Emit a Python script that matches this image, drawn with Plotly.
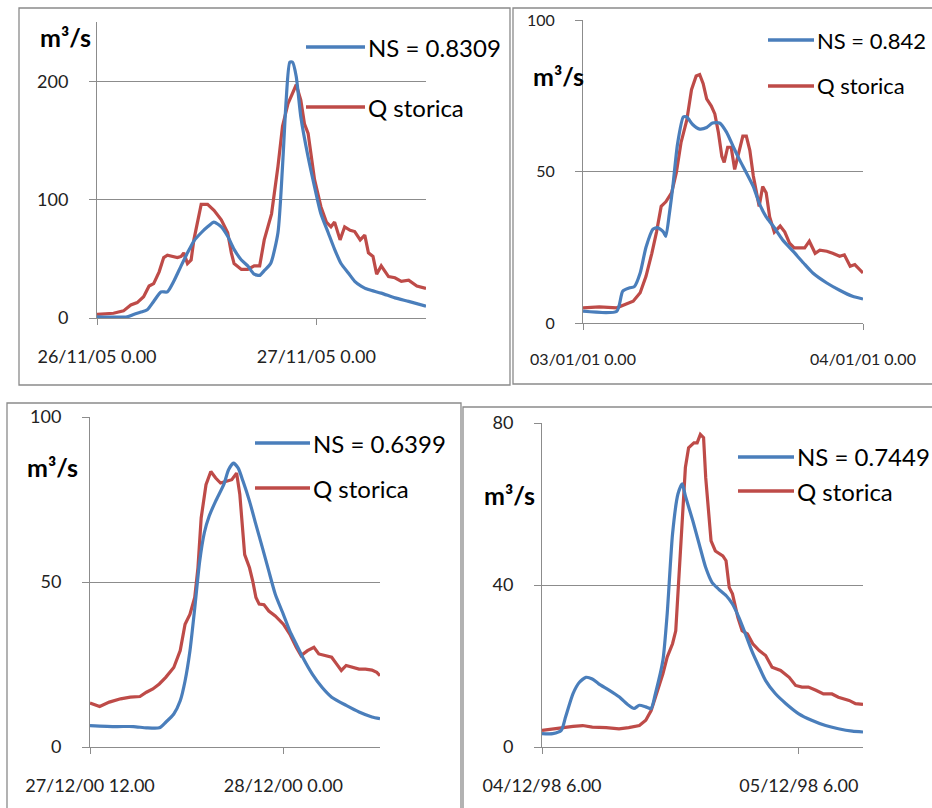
import plotly.graph_objects as go

W, H = 932, 808

# ---------------- data (hours from the first labelled tick, discharge m3/s) ----------------
# Event 1: 26/11/05
p1_sim_h = [0, 3.3, 4.0, 4.8, 5.5, 6.2, 7.0, 7.7, 8.4, 9.2, 9.9, 10.6, 11.4, 12.1, 12.8, 13.6, 14.3, 15.0,
            15.8, 16.5, 17.2, 17.8, 18.3, 19.0, 19.8, 20.3, 20.7, 21.1, 21.4, 21.8, 22.3, 23.1, 23.8, 24.5,
            25.3, 26.0, 26.7, 27.5, 28.2, 28.9, 29.7, 31.1, 32.6, 34.1, 36.0]
p1_sim = [1, 1, 3, 5, 7, 14, 22, 22, 31, 44, 55, 65, 72, 77, 81, 77, 69, 58,
          49, 44, 37, 36, 40, 46, 72, 128, 184, 216, 216, 204, 170, 136, 111, 88,
          72, 58, 46, 38, 31, 27, 24, 21, 17, 14, 10]
p1_obs_h = [0, 1.8, 2.9, 3.7, 4.4, 5.1, 5.7, 6.2, 6.8, 7.3, 7.7, 8.2, 8.8, 9.2, 9.5, 9.9, 10.3, 10.6,
            11.4, 12.1, 12.8, 13.6, 14.3, 14.7, 15.0, 15.8, 16.5, 17.2, 17.8, 18.3, 19.1, 19.8, 20.3,
            20.9, 21.4, 21.8, 22.3, 22.7, 23.1, 23.8, 24.5, 25.1, 25.6, 26.0, 26.6, 27.1, 27.7, 28.2,
            28.8, 29.3, 29.7, 30.2, 30.6, 31.1, 31.9, 32.6, 33.3, 34.1, 35.0, 36.0]
p1_obs = [3, 4, 6, 11, 13, 18, 27, 29, 39, 51, 53, 52, 51, 52, 55, 46, 49, 66,
          96, 96, 91, 83, 72, 55, 46, 41, 41, 44, 44, 66, 88, 128, 162,
          181, 190, 197, 184, 164, 156, 117, 94, 81, 77, 81, 66, 77, 74, 73,
          66, 70, 55, 52, 37, 44, 35, 34, 31, 32, 27, 25]

# Event 2: 03/01/01
p2_sim_h = [0, 2.9, 3.4, 4.0, 4.4, 4.9, 5.4, 6.0, 6.4, 6.9, 7.1, 7.4, 7.7, 8.1, 8.6, 8.9, 9.4, 10.0,
            10.6, 11.1, 11.7, 12.3, 12.9, 13.4, 14.0, 14.6, 15.1, 15.7, 16.3, 17.1, 18.0, 18.9, 19.7,
            20.9, 22.0, 23.1, 24.0]
p2_sim = [3.9, 3.9, 10.5, 11.6, 12, 16.5, 25, 31, 31.5, 30, 28.6, 36, 45, 59, 68, 68, 65.5, 64,
          64.5, 66, 66, 63, 58, 54, 49.6, 45, 39.6, 35, 32, 27.5, 23.7, 19.8, 16.5,
          13.2, 10.8, 8.8, 7.9]
p2_obs_h = [0, 1.4, 2.9, 3.7, 4.3, 4.9, 5.4, 5.9, 6.3, 6.7, 7.1, 7.6, 8.0, 8.4, 8.9, 9.3, 9.7, 10.0,
            10.3, 10.6, 11.0, 11.3, 11.6, 11.9, 12.1, 12.4, 12.7, 13.0, 13.3, 13.7, 14.0, 14.3, 14.6,
            14.9, 15.1, 15.4, 15.7, 16.0, 16.4, 16.9, 17.3, 17.7, 18.1, 18.6, 19.0, 19.4, 19.9, 20.3,
            20.9, 21.4, 22.0, 22.4, 22.9, 23.3, 23.7, 24.0]
p2_obs = [5, 5.3, 5, 6.4, 7.2, 10, 15.4, 23, 30, 38.5, 40, 43, 49.6, 59.5, 67, 77, 81.5, 82,
          79, 74, 71.6, 69, 63, 55, 53, 58, 58, 50.7, 55, 61.7, 61.7, 57, 48.5,
          43, 38.5, 45, 43, 35, 30, 32, 30, 26.4, 24.8, 24.8, 24.8, 27, 23, 24,
          23.7, 23, 22, 22.5, 18.7, 19.3, 17.6, 16.5]

# Event 3: 27/12/00
p3_sim_h = [0, 1.6, 2.7, 3.5, 4.3, 4.7, 5.2, 5.6, 5.9, 6.2, 6.5, 6.8, 7.1, 7.4, 7.8, 8.3, 8.6, 8.9,
            9.2, 9.5, 9.9, 10.3, 10.7, 11.1, 11.5, 12.0, 12.4, 12.8, 13.2, 13.8, 14.4, 15.0, 15.9,
            16.7, 17.5, 18.0]
p3_sim = [6.5, 6.2, 6.2, 5.8, 5.8, 7.5, 10, 14, 20, 29, 42, 56, 65, 70, 74.5, 79.5, 84, 86,
          84.5, 80.5, 74.5, 67.4, 60.4, 53.3, 46.3, 40.2, 35.2, 31.2, 27.2, 22.1, 18.1, 15.1, 12.6,
          10.6, 9.1, 8.6]
p3_obs_h = [0, 0.6, 1.2, 1.9, 2.5, 3.1, 3.5, 3.9, 4.3, 4.7, 5.2, 5.6, 5.9, 6.2, 6.5, 6.7, 6.9, 7.2,
            7.5, 7.8, 8.1, 8.5, 8.8, 9.1, 9.3, 9.6, 9.9, 10.1, 10.3, 10.5, 10.8, 11.1, 11.5, 12.0,
            12.4, 12.8, 13.1, 13.5, 13.9, 14.2, 14.6, 15.0, 15.3, 15.6, 15.9, 16.3, 16.7, 17.1, 17.5,
            17.8, 18.0]
p3_obs = [13.3, 12.3, 13.6, 14.6, 15.1, 15.3, 16.6, 17.6, 19.1, 21.1, 24.1, 29.2, 37.2, 40.2, 45.3, 54.3, 69.4, 79.5,
          83.5, 81.5, 80, 80.5, 81, 83, 76.5, 58.3, 54.3, 50.3, 45.3, 43.3, 43.1, 41.2, 39.7, 37.2,
          34.2, 30.2, 27.7, 29.2, 30.2, 28.2, 27.7, 27.2, 25.2, 23.2, 24.7, 24.1, 23.6, 23.6, 23.3,
          22.6, 21.6]

# Event 4: 04/12/98
p4_sim_h = [0, 1.0, 1.8, 2.2, 2.9, 3.5, 4.1, 4.7, 5.3, 6.3, 7.2, 8.1, 8.6, 9.1, 9.7, 10.2, 10.6, 11.3,
            11.7, 12.2, 12.7, 13.1, 13.4, 14.1, 14.7, 15.3, 15.9, 16.5, 17.2, 17.8, 18.4, 19.0, 19.6,
            20.3, 20.9, 21.8, 22.8, 24.0, 25.2, 26.5, 27.7, 29.0, 30.0]
p4_sim = [3.3, 3.3, 4.1, 7.4, 13.2, 16, 17.2, 16.8, 15.6, 14, 12.4, 10.3, 9.5, 10.3, 9.9, 9.5, 13.2, 21.4,
          32.9, 52.6, 62.4, 65, 62, 55.8, 50, 44.3, 40.6, 39, 37.4, 35.3, 32, 28, 23.8,
          19.7, 16.4, 13.2, 10.7, 8.2, 6.6, 5.3, 4.5, 3.9, 3.7]
p4_obs_h = [0, 1.0, 1.9, 2.9, 3.8, 4.7, 6.0, 7.2, 8.1, 9.1, 9.7, 10.2, 10.6, 11.3, 11.7, 12.2, 12.5, 12.8,
            13.1, 13.4, 13.7, 14.2, 14.5, 14.8, 15.1, 15.3, 15.8, 16.2, 16.9, 17.2, 17.5, 17.8, 18.3,
            18.7, 19.2, 19.7, 20.3, 20.9, 21.5, 22.3, 23.1, 23.7, 24.3, 24.9, 25.6, 26.3, 27.1, 27.7,
            28.7, 29.3, 30.0]
p4_obs = [4.1, 4.5, 4.8, 5.1, 5.3, 4.9, 4.8, 4.5, 4.8, 5.3, 6.6, 9, 12.3, 18.1, 22.2, 25.5, 28.7, 42.7,
          57.5, 69, 73.9, 75.1, 75.1, 77.2, 76.4, 66.5, 50.9, 48.4, 47.2, 46, 39.4, 37.8, 32,
          28.7, 27.9, 25.5, 23.8, 22.6, 19.7, 18.9, 17.2, 15.2, 14.8, 14.8, 14, 13.1, 13.1, 12.3,
          11.5, 10.7, 10.5]

# axis labels and legend texts
p1_xticks = ["26/11/05 0.00", "27/11/05 0.00"]
p2_xticks = ["03/01/01 0.00", "04/01/01 0.00"]
p3_xticks = ["27/12/00 12.00", "28/12/00 0.00"]
p4_xticks = ["04/12/98 6.00", "05/12/98 6.00"]
ns_labels = ["NS = 0.8309", "NS = 0.842", "NS = 0.6399", "NS = 0.7449"]
obs_label = "Q storica"
unit_label = "m³/s"

BLUE = "#4A7EBB"
RED = "#BE4B48"
GRID = "#8C8C8C"
FONT = "Lato"


def px(x):
    return x / W


def py(y):
    return 1 - y / H


# panel geometry in pixels: x-left, x-right, y-bottom (value 0), y-top
panels = [
    dict(x0=97, x1=426, yb=318, yt=22, xr=[0, 36], yr=[0, 250], yt_vals=[0, 100, 200], xt=[0, 24],
         xtext=p1_xticks, sim=(p1_sim_h, p1_sim), obs=(p1_obs_h, p1_obs), tfs=18,
         leg=dict(lx0=306, lx1=365, y1=47, y2=107, fs=24), unit=(65, 37), ns=ns_labels[0]),
    dict(x0=583, x1=863, yb=323, yt=20, xr=[0, 24], yr=[0, 100], yt_vals=[0, 50, 100], xt=[0, 24],
         xtext=p2_xticks, sim=(p2_sim_h, p2_sim), obs=(p2_obs_h, p2_obs), tfs=16,
         leg=dict(lx0=768, lx1=814, y1=40, y2=86, fs=22), unit=(558, 76), ns=ns_labels[1]),
    dict(x0=90, x1=380, yb=747, yt=417, xr=[0, 18], yr=[0, 100], yt_vals=[0, 50, 100], xt=[0, 12],
         xtext=p3_xticks, sim=(p3_sim_h, p3_sim), obs=(p3_obs_h, p3_obs), tfs=18,
         leg=dict(lx0=255, lx1=310, y1=443, y2=488, fs=24), unit=(52, 467), ns=ns_labels[2]),
    dict(x0=542, x1=863, yb=747, yt=423, xr=[0, 30], yr=[0, 80], yt_vals=[0, 40, 80], xt=[0, 24],
         xtext=p4_xticks, sim=(p4_sim_h, p4_sim), obs=(p4_obs_h, p4_obs), tfs=18,
         leg=dict(lx0=738, lx1=794, y1=457, y2=491, fs=24), unit=(510, 495), ns=ns_labels[3]),
]

fig = go.Figure()
layout = dict(width=W, height=H, margin=dict(l=0, r=0, t=0, b=0, pad=0, autoexpand=False),
              paper_bgcolor="white", plot_bgcolor="white", showlegend=False,
              font=dict(family=FONT, color="#111"))
shapes, annotations = [], []

for i, p in enumerate(panels, start=1):
    sfx = "" if i == 1 else str(i)
    xa, ya = "x" + sfx, "y" + sfx
    fig.add_trace(go.Scatter(x=p["obs"][0], y=p["obs"][1], mode="lines", xaxis=xa, yaxis=ya,
                             line=dict(color=RED, width=3.2), name=obs_label))
    fig.add_trace(go.Scatter(x=p["sim"][0], y=p["sim"][1], mode="lines", xaxis=xa, yaxis=ya,
                             line=dict(color=BLUE, width=3.2, shape="spline", smoothing=0.6),
                             name=p["ns"]))
    layout["xaxis" + sfx] = dict(
        domain=[px(p["x0"]), px(p["x1"])], range=p["xr"], anchor=ya, automargin=False,
        showgrid=False, zeroline=False, showline=True, linecolor=GRID, linewidth=1,
        ticks="outside", ticklen=6, tickcolor=GRID, tickvals=p["xt"], ticktext=p["xtext"],
        tickfont=dict(size=p["tfs"], color="#222"), ticklabelstandoff=16, fixedrange=True)
    layout["yaxis" + sfx] = dict(
        domain=[py(p["yb"]), py(p["yt"])], range=p["yr"], anchor=xa, automargin=False,
        showgrid=True, gridcolor=GRID, gridwidth=1, zeroline=False, showline=True,
        linecolor=GRID, linewidth=1, ticks="outside", ticklen=7, tickcolor=GRID,
        tickvals=p["yt_vals"], tickfont=dict(size=p["tfs"], color="#222"),
        ticklabelstandoff=17, fixedrange=True)

    lg = p["leg"]
    for yy, col, txt in ((lg["y1"], BLUE, p["ns"]), (lg["y2"], RED, obs_label)):
        shapes.append(dict(type="line", xref="paper", yref="paper",
                           x0=px(lg["lx0"]), x1=px(lg["lx1"]), y0=py(yy), y1=py(yy),
                           line=dict(color=col, width=3.5)))
        annotations.append(dict(xref="paper", yref="paper", x=px(lg["lx1"] + 1), y=py(yy),
                                xanchor="left", yanchor="middle", showarrow=False, text=txt,
                                font=dict(size=lg["fs"], color="#000")))
    annotations.append(dict(xref="paper", yref="paper", x=px(p["unit"][0]), y=py(p["unit"][1]),
                            xanchor="center", yanchor="middle", showarrow=False,
                            text=unit_label, font=dict(size=25, color="#000", weight="bold")))

# frames around each chart
BORDER = "#8A8A8A"
for (bx0, by0, bx1, by1) in [(19, 8, 510, 385), (513, 8, 940, 384), (7, 403, 461, 815), (463, 407, 940, 815)]:
    shapes.append(dict(type="rect", xref="paper", yref="paper", x0=px(bx0), x1=px(bx1),
                       y0=py(by1), y1=py(by0), line=dict(color=BORDER, width=1.3),
                       fillcolor="rgba(0,0,0,0)", layer="below"))

layout["shapes"] = shapes
layout["annotations"] = annotations
fig.update_layout(**layout)
fig.write_html("out.html")
